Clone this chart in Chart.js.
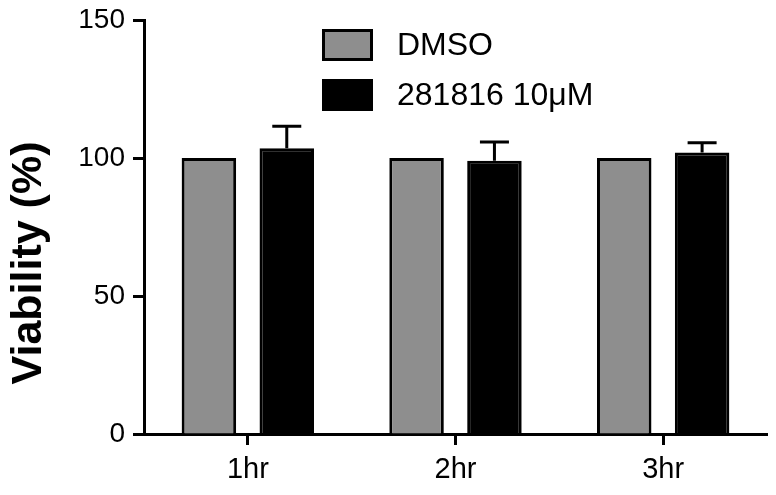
<!DOCTYPE html>
<html>
<head>
<meta charset="utf-8">
<script src="https://cdn.jsdelivr.net/npm/chart.js@4"></script>
<style>
html,body{margin:0;padding:0;background:#fff;}
#wrap{width:776px;height:495px;position:relative;}
</style>
</head>
<body>
<div id="wrap"><canvas id="c" width="776" height="495"></canvas></div>
<script>
const categories = ["1hr", "2hr", "3hr"];
const seriesNames = ["DMSO", "281816 10\u03bcM"];
const dmsoValues = [100, 100, 100];
const dmsoErrors = [0, 0, 0];
const drugValues = [103.5, 99, 102];
const drugErrors = [8, 6.8, 3.5];
const yTicks = [0, 50, 100, 150];
const yTitle = "Viability (%)";

const FONT = "'Liberation Sans', Arial, sans-serif";

const errorBarPlugin = {
  id: 'errorBars',
  afterDatasetsDraw(chart) {
    const ctx = chart.ctx;
    const ys = chart.scales.y;
    chart.data.datasets.forEach((ds, di) => {
      const meta = chart.getDatasetMeta(di);
      if (!ds.errors) return;
      meta.data.forEach((el, i) => {
        const e = ds.errors[i];
        if (!e) return;
        const top = ys.getPixelForValue(ds.data[i] + e);
        ctx.save();
        ctx.strokeStyle = '#000';
        ctx.lineWidth = 3;
        ctx.beginPath();
        ctx.moveTo(el.x, el.y);
        ctx.lineTo(el.x, top);
        ctx.moveTo(el.x - 14.5, top);
        ctx.lineTo(el.x + 14.5, top);
        ctx.stroke();
        ctx.restore();
      });
    });
  }
};

const legendAndTitlePlugin = {
  id: 'customLegend',
  afterDraw(chart) {
    const ctx = chart.ctx;
    ctx.save();
    // y-axis title
    ctx.translate(29, 263);
    ctx.rotate(-Math.PI / 2);
    ctx.fillStyle = '#000';
    ctx.font = "bold 43px " + FONT;
    ctx.textAlign = 'center';
    ctx.textBaseline = 'middle';
    ctx.fillText(yTitle, 0, 0);
    ctx.restore();

    // legend
    ctx.save();
    const boxes = [{y: 29}, {y: 79}];
    chart.data.datasets.forEach((ds, i) => {
      const bx = 322, by = boxes[i].y, bw = 51, bh = 32;
      ctx.fillStyle = ds.backgroundColor;
      ctx.fillRect(bx, by, bw, bh);
      ctx.strokeStyle = '#000';
      ctx.lineWidth = 3;
      ctx.strokeRect(bx + 1.5, by + 1.5, bw - 3, bh - 3);
      ctx.fillStyle = '#000';
      ctx.font = "32px " + FONT;
      ctx.textAlign = 'left';
      ctx.textBaseline = 'middle';
      ctx.fillText(ds.label, 397, by + bh / 2 + 1);
    });
    ctx.restore();
  }
};

new Chart(document.getElementById('c'), {
  type: 'bar',
  data: {
    labels: categories,
    datasets: [
      {label: seriesNames[0], data: dmsoValues, errors: dmsoErrors,
       backgroundColor: '#8e8e8e', borderColor: '#000', borderWidth: 3, borderSkipped: 'start'},
      {label: seriesNames[1], data: drugValues, errors: drugErrors,
       backgroundColor: '#000', borderColor: '#000', borderWidth: 3, borderSkipped: 'start'}
    ]
  },
  options: {
    responsive: false,
    animation: false,
    devicePixelRatio: 1,
    datasets: {bar: {categoryPercentage: 0.75, barPercentage: 0.7}},
    layout: {padding: {top: 20, right: 9, left: 0, bottom: 0}},
    plugins: {legend: {display: false}, tooltip: {enabled: false}, title: {display: false}},
    scales: {
      x: {
        offset: true,
        grid: {display: true, offset: false, drawOnChartArea: false, drawTicks: true, tickLength: 11, tickWidth: 3, tickColor: '#000'},
        border: {display: true, color: '#000', width: 3},
        ticks: {color: '#000', font: {family: FONT, size: 29}, padding: 8},
        afterFit(s) { s.height = 61; s.paddingLeft = 0; s.paddingRight = 0; }
      },
      y: {
        min: 0, max: 150,
        afterBuildTicks(s) { s.ticks = yTicks.map(v => ({value: v})); },
        grid: {display: true, drawOnChartArea: false, drawTicks: true, tickLength: 11, tickWidth: 3, tickColor: '#000'},
        border: {display: true, color: '#000', width: 3},
        ticks: {color: '#000', font: {family: FONT, size: 28}, padding: 8},
        afterFit(s) { s.width = 144; s.paddingTop = 0; s.paddingBottom = 0; }
      }
    }
  },
  plugins: [errorBarPlugin, legendAndTitlePlugin]
});
</script>
</body>
</html>
